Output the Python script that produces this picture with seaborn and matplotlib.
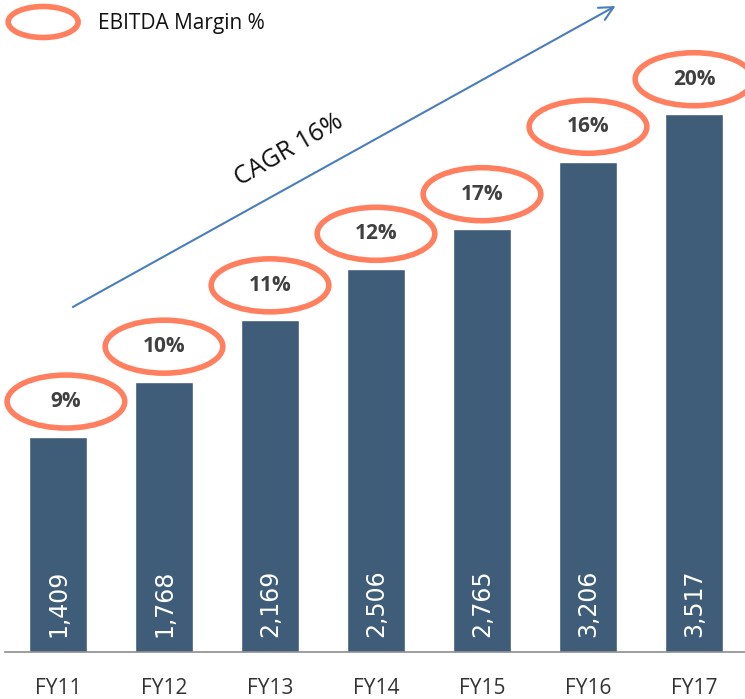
import matplotlib
matplotlib.use("Agg")
import matplotlib.pyplot as plt
from matplotlib.patches import Ellipse
import seaborn as sns
import pandas as pd

# data
years = ["FY11", "FY12", "FY13", "FY14", "FY15", "FY16", "FY17"]
revenue = [1409, 1768, 2169, 2506, 2765, 3206, 3517]
margin = ["9%", "10%", "11%", "12%", "17%", "16%", "20%"]
cagr_text = "CAGR 16%"
legend_text = "EBITDA Margin %"

bar_color = "#3F5D78"
ring_color = "#FF7F5E"

sns.set_theme(style="white")
plt.rcParams["font.family"] = ["Open Sans", "DejaVu Sans"]

df = pd.DataFrame({"year": years, "revenue": revenue})

fig = plt.figure(figsize=(7.45, 6.99), dpi=100)
ax = fig.add_axes([5 / 745, 47 / 699, 742 / 745, 652 / 699])

sns.barplot(data=df, x="year", y="revenue", color=bar_color, width=0.54,
            saturation=1, ax=ax)

ymax = 4264
ax.set_xlim(-0.5, 6.5)
ax.set_ylim(0, ymax)
ax.set_xlabel("")
ax.set_ylabel("")
ax.set_yticks([])

sns.despine(ax=ax, left=True, top=True, right=True)
ax.spines["bottom"].set_color("#8C8C8C")
ax.spines["bottom"].set_linewidth(1.2)

# ticks between categories
ax.set_xticks([i - 0.5 for i in range(len(years) + 1)], minor=True)
ax.tick_params(axis="x", which="minor", length=10, width=1.2, color="#8C8C8C",
               direction="out")
ax.tick_params(axis="x", which="major", length=0, pad=19, labelsize=15,
               labelcolor="#333333")

px = ymax / 652  # value units per pixel
ring_w = 1.11

for i, (v, m) in enumerate(zip(revenue, margin)):
    # value inside bar, rotated
    ax.annotate(f"{v:,}", xy=(i, 0), xytext=(0, 11), textcoords="offset points",
                rotation=90, ha="center", va="bottom", color="white",
                fontsize=17, family="DejaVu Sans")
    # margin ring above bar, kept inside the left edge
    cx = max(i, -0.5 + ring_w / 2 + 0.02)
    cy = v + 35 * px
    ax.add_patch(Ellipse((cx, cy), width=ring_w, height=53 * px, facecolor="white",
                         edgecolor=ring_color, lw=4, clip_on=False, zorder=3))
    ax.text(cx, cy, m, ha="center", va="center", fontsize=15, fontweight="bold",
            color="#404040", zorder=4)

# legend
ax.add_patch(Ellipse((-0.14, 630 * px), width=0.66, height=31 * px,
                     facecolor="white", edgecolor=ring_color, lw=4,
                     clip_on=False, zorder=3))
ax.text(0.38, 628 * px, legend_text, ha="left", va="center", fontsize=15,
        color="#111111")

# growth arrow
ax.annotate("", xy=(5.26, 646 * px), xytext=(0.14, 345 * px),
            arrowprops=dict(arrowstyle="->", color="#4A7EBB", lw=1.5,
                            mutation_scale=25, shrinkA=0, shrinkB=0))
ax.text(2.18, 502 * px, cagr_text, rotation=30, rotation_mode="anchor",
        ha="center", va="center", fontsize=18, color="#111111")

fig.savefig("out.png", dpi=100)
